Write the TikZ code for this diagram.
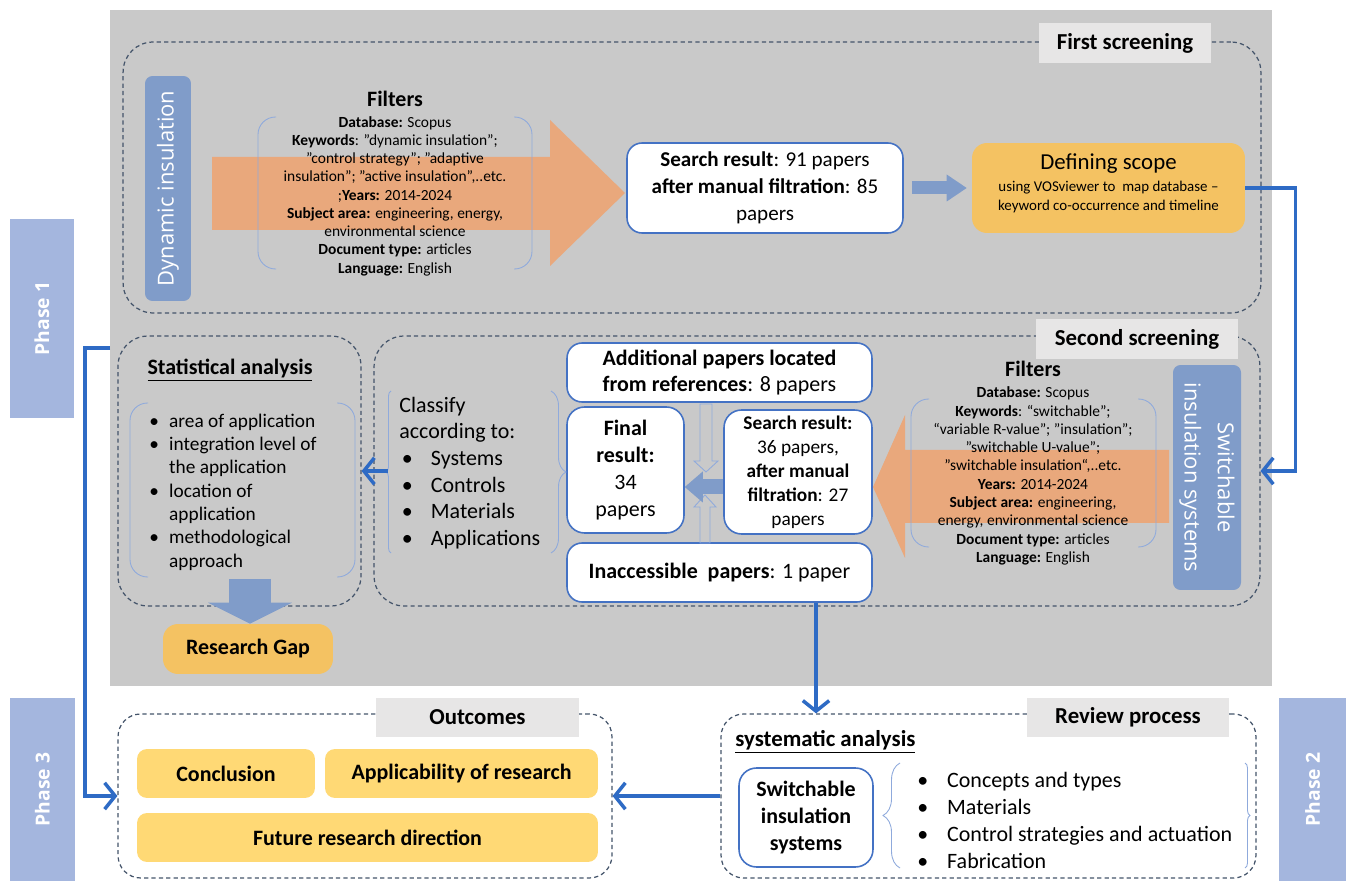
\documentclass[tikz,border=0pt]{standalone}
\usepackage{fontspec}
\setmainfont{Carlito}[Ligatures=ResetAll]
\newfontfamily\opensans{Open Sans}
\usetikzlibrary{arrows.meta,decorations.pathreplacing}

\definecolor{panel}{RGB}{201,201,201}
\definecolor{tagfill}{RGB}{231,230,230}
\definecolor{frameline}{RGB}{68,84,106}
\definecolor{barblue}{RGB}{128,156,201}
\definecolor{phaseblue}{RGB}{164,182,222}
\definecolor{boxline}{RGB}{68,114,196}
\definecolor{thinblue}{RGB}{143,170,220}
\definecolor{salmon}{RGB}{233,168,124}
\definecolor{amber}{RGB}{244,194,98}
\definecolor{butter}{RGB}{255,217,117}
\definecolor{linkblue}{RGB}{46,107,197}

\tikzset{
  frame/.style={draw=frameline, line width=0.7pt, dash pattern=on 2.4pt off 1.8pt, rounded corners=0.6cm, inner sep=0pt},
  tag/.style={fill=tagfill, inner sep=0pt, font=\fontsize{13}{15}\selectfont\bfseries},
  brace/.style={draw=thinblue, line width=0.5pt, decorate, decoration={brace, amplitude=#1}}
}
\newcommand{\itembul}{\hspace*{1.5pt}\makebox[16.5pt][l]{\textbullet}}
\newcommand{\listbul}[1]{\makebox[#1][l]{\textbullet}}

\begin{document}
\begin{tikzpicture}[x=0.02cm, y=-0.02cm]
        \tikzstyle{result}=[draw=boxline, fill=white, line width=0.9pt, rounded corners=0.3cm, align=center, inner sep=0pt, font=\fontsize{12}{15.3}\selectfont]
        \tikzstyle{scope}=[fill=amber, rounded corners=0.3cm, align=center, inner sep=0pt]
        \tikzstyle{outcome}=[fill=butter, rounded corners=0.2cm, inner sep=0pt, minimum height=0.98cm, font=\fontsize{12.5}{14}\selectfont\bfseries]
        \tikzstyle{phase}=[fill=phaseblue, inner sep=0pt, text=white, font=\opensans\fontsize{11}{13}\selectfont\bfseries]
        \tikzstyle{topic}=[fill=barblue, rounded corners=0.15cm, inner sep=0pt, text=white, align=center, font=\opensans\fontsize{12.5}{19}\selectfont]
        \tikzstyle{filters}=[align=center, inner sep=0pt, font=\fontsize{8.8}{10.4}\selectfont]
        \tikzstyle{bracket}=[draw=thinblue, line width=0.5pt]
        \tikzstyle{link}=[draw=linkblue, line width=2pt, -{Straight Barb[length=6pt,width=15pt]}]

        \useasboundingbox (0,0) rectangle (1346,881);
        \fill[panel] (110,10) rectangle (1272,686);

        \node[phase, rotate=90, minimum width=3.98cm, minimum height=1.28cm] (P_1) at (42,318.5) {Phase 1};
        \node[phase, rotate=90, minimum width=3.66cm, minimum height=1.3cm] (P_3) at (42.5,789.5) {Phase 3};
        \node[phase, rotate=90, minimum width=3.66cm, minimum height=1.34cm] (P_2) at (1312.5,789.5) {Phase 2};

        \node[frame, minimum width=22.76cm, minimum height=5.42cm] (Box_1) at (692,177.5) {};
        \node[frame, minimum width=17.72cm, minimum height=5.4cm] (Box_2) at (817,471) {};
        \node[frame, minimum width=4.86cm, minimum height=5.4cm] (Box_3) at (239.5,471) {};
        \node[frame, minimum width=9.88cm, minimum height=3.28cm, rounded corners=0.45cm] (Box_4) at (365,796) {};
        \node[frame, minimum width=10.7cm, minimum height=3.28cm, rounded corners=0.45cm] (Box_5) at (988.5,796) {};
        \node[tag, minimum width=3.44cm, minimum height=0.8cm] (L_1) at (1125,43) {First screening};
        \node[tag, minimum width=4.04cm, minimum height=0.8cm] (L_2) at (1137,339) {Second screening};
        \node[tag, minimum width=4.06cm, minimum height=0.78cm] (L_4) at (477.5,717.5) {Outcomes};
        \node[tag, minimum width=4.04cm, minimum height=0.78cm] (L_5) at (1128,717.5) {Review process};

        \fill[salmon] (212,157) -- (550,157) -- (550,120) -- (625,193) -- (550,266) -- (550,230) -- (212,230) -- cycle;
        \node[topic, rotate=90, minimum width=4.5cm, minimum height=0.92cm] (D_1) at (168,188.5) {Dynamic insulation};
        \node[font=\fontsize{12.5}{15}\selectfont\bfseries, inner sep=0pt] (F_head) at (395,99) {Filters};
        \node[filters] (F_filt) at (395,196) {\textbf{Database:} Scopus\\ \textbf{Keywords}: "dynamic insulation";\\ "control strategy"; "adaptive\\ insulation"; "active insulation",..etc.\\ ;\textbf{Years:} 2014-2024\\ \textbf{Subject area:} engineering, energy,\\ environmental science\\ \textbf{Document type:} articles\\ \textbf{Language:} English};
        \draw[bracket, rounded corners=0.35cm] (276,117) -- (258,117) -- (258,269) -- (276,269);
        \draw[bracket, rounded corners=0.35cm] (514,117) -- (532,117) -- (532,269) -- (514,269);
        \node[result, minimum width=5.52cm, minimum height=1.8cm] (F_search) at (765,188) {\textbf{Search result}: 91 papers\\ \textbf{after manual filtration}: 85\\ papers};
        \node[scope, minimum width=5.46cm, minimum height=1.8cm, font=\fontsize{8.5}{10.8}\selectfont] (F_scope) at (1108.5,188) {{\fontsize{13}{16}\selectfont Defining scope}\\[2pt] using VOSviewer to\ \ map database –\\ keyword co-occurrence and timeline\\[-4pt]};
        \draw[draw=barblue, line width=0.26cm, shorten <=0.16cm, shorten >=0.1cm, -{Triangle[length=0.4cm,width=0.54cm,line width=0pt]}] (F_search.east) -- (F_scope.west);

        \fill[salmon] (1169,450) -- (905,450) -- (905,415) -- (873,487) -- (905,558) -- (905,523) -- (1169,523) -- cycle;
        \node[topic, rotate=-90, minimum width=4.5cm, minimum height=1.36cm] (S_bar) at (1207,477.5) {Switchable\\ insulation systems};
        \node[font=\fontsize{12.5}{15}\selectfont\bfseries, inner sep=0pt] (S_head) at (1033,369) {Filters};
        \node[filters] (S_filt) at (1033,476) {\textbf{Database:} Scopus\\ \textbf{Keywords}: “switchable”;\\ “variable R-value”; "insulation";\\ "switchable U-value”;\\ "switchable insulation“,..etc.\\ \textbf{Years:} 2014-2024\\ \textbf{Subject area:} engineering,\\ energy, environmental science\\ \textbf{Document type:} articles\\ \textbf{Language:} English};
        \draw[bracket, rounded corners=0.35cm] (929,399) -- (911,399) -- (911,547) -- (929,547);
        \draw[bracket, rounded corners=0.35cm] (1138,399) -- (1156,399) -- (1156,547) -- (1138,547);
        \node[result, minimum width=6.1cm, minimum height=1.18cm, font=\fontsize{12.5}{15.3}\selectfont] (S_add) at (719.5,372.5) {\textbf{Additional papers located}\\ \textbf{from references}: 8 papers};
        \node[result, rounded corners=0.35cm, minimum width=2.34cm, minimum height=2.52cm, font=\fontsize{12.5}{15.3}\selectfont] (S_final) at (625.5,470) {\textbf{Final}\\ \textbf{result:}\\ 34\\ papers};
        \node[result, rounded corners=0.35cm, minimum width=2.96cm, minimum height=2.48cm, font=\fontsize{11}{13.6}\selectfont] (S_search) at (798,472) {\textbf{Search result:}\\ 36 papers,\\ \textbf{after manual}\\ \textbf{filtration}: 27\\ papers};
        \node[result, minimum width=6.1cm, minimum height=1.18cm, font=\fontsize{12.5}{15.3}\selectfont] (S_inacc) at (719.5,572.5) {\textbf{Inaccessible\ \ papers}: 1 paper};
        \draw[bracket] (700,404) -- (712,404) -- (712,461) -- (718,461) -- (706,472) -- (694,461) -- (700,461) -- cycle;
        \draw[bracket] (700,543) -- (710,543) -- (710,507) -- (716,507) -- (705,495) -- (694,507) -- (700,507) -- cycle;
        \draw[draw=barblue, line width=0.3cm, -{Triangle[length=0.36cm,width=0.62cm,line width=0pt]}] ([yshift=-0.3cm]S_search.west) -- ([yshift=-0.3cm]S_search.west -| S_final.east);
        \node[anchor=west, align=left, inner sep=0pt, font=\fontsize{12.5}{15.2}\selectfont] (S_class) at (399,473) {Classify\\ according to:\\ \itembul Systems\\ \itembul Controls\\ \itembul Materials\\ \itembul Applications};
        \draw[brace=0.1cm] (391,553) -- (391,391);
        \draw[brace=0.3cm] (551,391) -- (551,553);

        \node[font=\fontsize{12.5}{15}\selectfont\bfseries, inner sep=0pt] (A_title) at (230,370) {\underline{Statistical analysis}};
        \node[anchor=west, align=left, inner sep=0pt, font=\fontsize{11}{13.3}\selectfont] (A_list) at (149,492) {\listbul{11.3pt}area of application\\ \listbul{11.3pt}integration level of\\ \hspace*{11.3pt}the application\\ \listbul{11.3pt}location of\\ \hspace*{11.3pt}application\\ \listbul{11.3pt}methodological\\ \hspace*{11.3pt}approach};
        \draw[bracket, rounded corners=0.35cm] (148,403) -- (130,403) -- (130,577) -- (148,577);
        \draw[bracket, rounded corners=0.35cm] (337,403) -- (355,403) -- (355,577) -- (337,577);
        \node[scope, minimum width=3.4cm, minimum height=1cm, font=\fontsize{12.5}{15}\selectfont\bfseries] (A_gap) at (248,649) {Research Gap};
        \coordinate (C_5) at (250,579);
        \draw[draw=barblue, line width=0.86cm, -{Triangle[length=0.42cm,width=1.68cm,line width=0pt]}] (C_5) -- (C_5 |- A_gap.north);

        \node[outcome, minimum width=3.56cm] (O_1) at (226,773.5) {Conclusion};
        \node[outcome, minimum width=5.46cm] (O_2) at (461.5,773.5) {Applicability of research};
        \node[outcome, minimum width=9.22cm] (O_3) at (367.5,837.5) {Future research direction};

        \node[anchor=west, inner sep=0pt, font=\fontsize{13}{15}\selectfont\bfseries] (R_title) at (735,742) {\underline{systematic analysis}};
        \node[result, rounded corners=0.35cm, minimum width=2.68cm, minimum height=1.98cm, font=\fontsize{12.5}{15.3}\selectfont\bfseries] (R_sis) at (806,817.5) {Switchable\\ insulation\\ systems};
        \node[anchor=west, align=left, inner sep=0pt, font=\fontsize{12.5}{15.3}\selectfont] (R_list) at (917,820.5) {\listbul{17pt}Concepts and types\\ \listbul{17pt}Materials\\ \listbul{17pt}Control strategies and actuation\\ \listbul{17pt}Fabrication};
        \draw[brace=0.34cm] (900,868) -- (900,763);
        \draw[brace=0.1cm] (1245,763) -- (1245,868);

        \coordinate (C_1) at (110,348);
        \coordinate (C_2) at (816,650);
        \coordinate (C_3) at (388,471);
        \draw[link] (F_scope.east) -- ++(50,0) |- (Box_2.east);
        \draw[link] (C_3) -- (Box_3.east);
        \draw[link] (C_1) -- ++(-25,0) |- (Box_4.west);
        \draw[link] (S_inacc.south -| C_2) -- (C_2 |- Box_5.north);
        \draw[link] (Box_5.west) -- (Box_4.east);
    \end{tikzpicture}
\end{document}
